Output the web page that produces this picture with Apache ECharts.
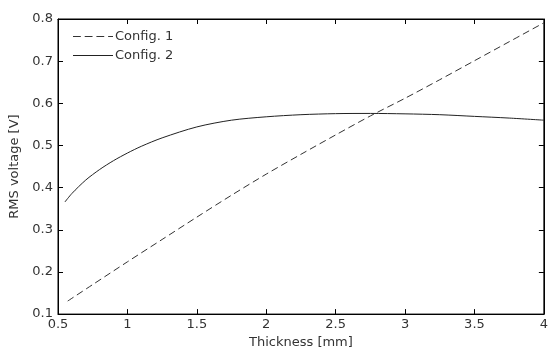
<!DOCTYPE html>
<html>
<head>
<meta charset="utf-8">
<script src="https://cdn.jsdelivr.net/npm/echarts@6/dist/echarts.min.js"></script>
<style>html,body{margin:0;padding:0;background:#fff}#c{width:551px;height:354px}</style>
</head>
<body>
<div id="c"></div>
<script>
const config1X = [0.57, 0.75, 1.0, 1.25, 1.5, 1.75, 2.0, 2.25, 2.5, 2.75, 3.0, 3.25, 3.5, 3.75, 4.0];
const config1Y = [0.131, 0.170, 0.224, 0.277, 0.330, 0.382, 0.432, 0.479, 0.525, 0.570, 0.612, 0.656, 0.701, 0.746, 0.791];
const config2X = [0.55, 0.6, 0.7, 0.8, 0.9, 1.0, 1.1, 1.25, 1.5, 1.75, 2.0, 2.25, 2.5, 2.75, 3.0, 3.25, 3.5, 3.75, 4.0];
const config2Y = [0.366, 0.386, 0.418, 0.443, 0.464, 0.482, 0.498, 0.518, 0.544, 0.560, 0.568, 0.573, 0.5755, 0.576, 0.575, 0.573, 0.569, 0.565, 0.560];
const seriesNames = ['Config. 1', 'Config. 2'];

const font = 'DejaVu Sans, sans-serif';
const txt = '#333';
const chart = echarts.init(document.getElementById('c'), null, {renderer: 'canvas'});
const tickStyle = {show: true, inside: true, length: 5, lineStyle: {color: '#000', width: 1}};
const dashIcon = 'path://M0,0H8V1H0Z M12,0H20V1H12Z M24,0H32V1H24Z M36,0H41V1H36Z';
const solidIcon = 'path://M0,0H41V1H0Z';
chart.setOption({
  animation: false,
  backgroundColor: '#fff',
  grid: {left: 57, right: 4, top: 19, bottom: 37, show: true, borderColor: '#000', borderWidth: 1, backgroundColor: 'transparent'},
  legend: {
    orient: 'vertical', left: 68, top: 25, itemWidth: 40, itemHeight: 1, itemGap: 6,
    symbolKeepAspect: false,
    textStyle: {fontFamily: font, fontSize: 13, color: txt, padding: [0, 0, 0, -3]},
    data: [{name: seriesNames[0], icon: dashIcon}, {name: seriesNames[1], icon: solidIcon}]
  },
  xAxis: [{
    type: 'value', min: 0.5, max: 4, interval: 0.5, position: 'bottom',
    name: 'Thickness [mm]', nameLocation: 'middle', nameGap: 21,
    nameTextStyle: {fontFamily: font, fontSize: 13, color: txt},
    axisLine: {show: true, lineStyle: {color: '#000'}},
    axisTick: tickStyle, splitLine: {show: false},
    axisLabel: {fontFamily: font, fontSize: 13, color: txt, margin: 4}
  }, {
    type: 'value', min: 0.5, max: 4, interval: 0.5, position: 'top',
    axisLine: {show: true, lineStyle: {color: '#000'}},
    axisTick: tickStyle, splitLine: {show: false}, axisLabel: {show: false}
  }],
  yAxis: [{
    type: 'value', min: 0.1, max: 0.8, interval: 0.1, position: 'left',
    name: 'RMS voltage [V]', nameLocation: 'middle', nameGap: 37,
    nameTextStyle: {fontFamily: font, fontSize: 13, color: txt},
    axisLine: {show: true, lineStyle: {color: '#000'}},
    axisTick: tickStyle, splitLine: {show: false},
    axisLabel: {fontFamily: font, fontSize: 13, color: txt, margin: 5, formatter: v => (+v).toFixed(1)}
  }, {
    type: 'value', min: 0.1, max: 0.8, interval: 0.1, position: 'right',
    axisLine: {show: true, lineStyle: {color: '#000'}},
    axisTick: tickStyle, splitLine: {show: false}, axisLabel: {show: false}
  }],
  series: [{
    name: seriesNames[0], type: 'line', symbol: 'none', smooth: 0.3,
    lineStyle: {color: '#333', width: 1, type: [7, 4]},
    itemStyle: {color: '#333'},
    data: config1X.map((x, i) => [x, config1Y[i]])
  }, {
    name: seriesNames[1], type: 'line', symbol: 'none', smooth: 0.3,
    lineStyle: {color: '#222', width: 1, type: 'solid'},
    itemStyle: {color: '#222'},
    data: config2X.map((x, i) => [x, config2Y[i]])
  }]
});
</script>
</body>
</html>
